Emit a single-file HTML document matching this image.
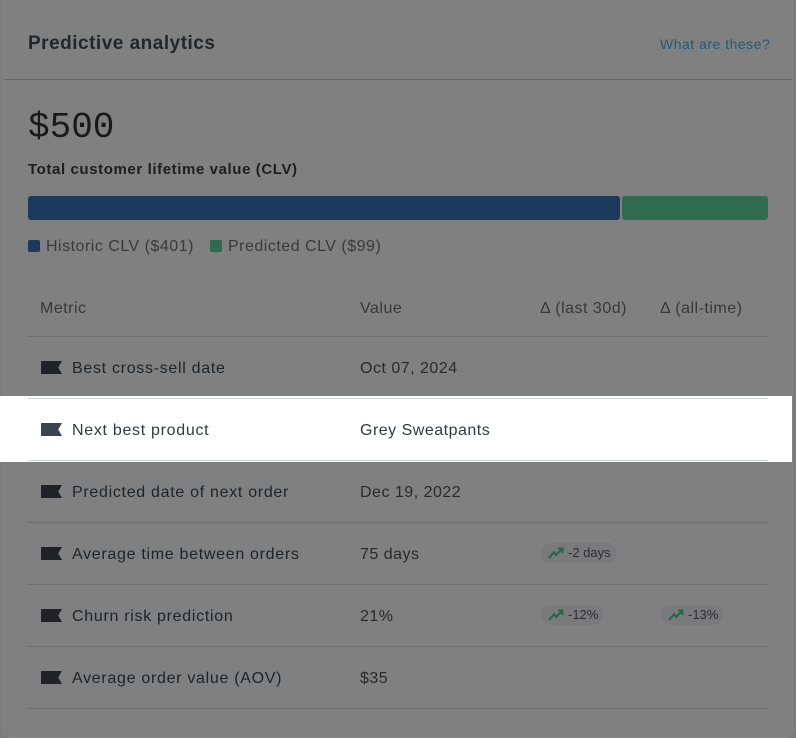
<!DOCTYPE html>
<html><head><meta charset="utf-8"><style>
*{margin:0;padding:0;box-sizing:border-box}
body{width:796px;height:738px;background:#7c7c7c;font-family:"Liberation Sans",sans-serif;position:relative;overflow:hidden}
.card{position:absolute;left:3px;top:0;width:790px;height:738px;background:#808080;border:1px solid #858585;border-top:none;border-radius:0 0 8px 8px}
.a{position:absolute;white-space:nowrap;letter-spacing:0.5px}
.line{position:absolute;left:28px;width:740px;height:1px;background:#6e6e6e}
.ic{position:absolute;left:41px;width:21px;height:13px;background:#1f2328;clip-path:polygon(0 0,100% 0,82% 50%,100% 100%,0 100%)}
.lbl{position:absolute;left:72px;font-size:16px;color:#202428;letter-spacing:0.7px;white-space:nowrap}
.val{position:absolute;left:360px;font-size:16px;color:#2a2a2a;letter-spacing:0.5px;white-space:nowrap}
.pill{position:absolute;height:20px;border-radius:10px;background:#7a7a7c;font-size:13px;color:#2e2e2e;line-height:20px;padding-left:28px}
.pill svg{position:absolute;left:8px;top:4px}
</style></head><body>
<div class="card"></div>
<div class="a" style="left:28px;top:33px;font-size:19px;font-weight:bold;color:#23272b">Predictive analytics</div>
<div class="a" style="left:660px;top:36px;font-size:14px;color:#1e5a7a">What are these?</div>
<div style="position:absolute;left:4px;top:79px;width:788px;height:1px;background:#656565"></div>
<div class="a" style="left:28px;top:107px;font-size:36px;font-family:'Liberation Mono',monospace;color:#1a1a1a;letter-spacing:0">$500</div>
<div class="a" style="left:28px;top:161px;font-size:15px;font-weight:bold;color:#1e1e1e;letter-spacing:0.6px">Total customer lifetime value (CLV)</div>
<div style="position:absolute;left:28px;top:196px;width:592px;height:24px;background:#1c3a5e;border-radius:3px"></div>
<div style="position:absolute;left:622px;top:196px;width:146px;height:24px;background:#2f6b4e;border-radius:3px"></div>
<div style="position:absolute;left:28px;top:240px;width:12px;height:12px;background:#1c3a5e;border-radius:2px"></div>
<div class="a" style="left:46px;top:238px;font-size:16px;color:#3a3a3a">Historic CLV ($401)</div>
<div style="position:absolute;left:210px;top:240px;width:12px;height:12px;background:#2f6b4e;border-radius:2px"></div>
<div class="a" style="left:228px;top:238px;font-size:16px;color:#3a3a3a">Predicted CLV ($99)</div>
<div class="a" style="left:40px;top:300px;font-size:16px;color:#383838">Metric</div>
<div class="a" style="left:360px;top:300px;font-size:16px;color:#383838">Value</div>
<div class="a" style="left:540px;top:300px;font-size:16px;color:#383838">Δ (last 30d)</div>
<div class="a" style="left:660px;top:300px;font-size:16px;color:#383838">Δ (all-time)</div>
<div class="line" style="top:336px"></div>
<div style="position:absolute;left:0;top:396px;width:792px;height:66px;background:#fff"></div>
<div class="line" style="top:398px;background:#c9cfd5"></div>
<div class="line" style="top:460px;background:#c9cfd5"></div>
<div class="line" style="top:522px"></div>
<div class="line" style="top:584px"></div>
<div class="line" style="top:646px"></div>
<div class="line" style="top:708px"></div>

<div class="ic" style="top:361px"></div><div class="lbl" style="top:360px">Best cross-sell date</div><div class="val" style="top:360px">Oct 07, 2024</div>
<div class="ic" style="top:423px;background:#3a4450"></div><div class="lbl" style="top:422px;color:#303a44">Next best product</div><div class="val" style="top:422px;color:#303a44">Grey Sweatpants</div>
<div class="ic" style="top:485px"></div><div class="lbl" style="top:484px">Predicted date of next order</div><div class="val" style="top:484px">Dec 19, 2022</div>
<div class="ic" style="top:547px"></div><div class="lbl" style="top:546px">Average time between orders</div><div class="val" style="top:546px">75 days</div>
<div class="ic" style="top:609px"></div><div class="lbl" style="top:608px">Churn risk prediction</div><div class="val" style="top:608px">21%</div>
<div class="ic" style="top:671px"></div><div class="lbl" style="top:670px">Average order value (AOV)</div><div class="val" style="top:670px">$35</div>

<div class="pill" style="left:540px;top:543px;width:77px"><svg width="16" height="12" viewBox="0 0 16 12"><path d="M1 11 L6 5 L8 8 L14 2 M10 1.5 H14.5 V6" stroke="#1f6a40" stroke-width="2" fill="none"/></svg>-2 days</div>
<div class="pill" style="left:540px;top:605px;width:64px"><svg width="16" height="12" viewBox="0 0 16 12"><path d="M1 11 L6 5 L8 8 L14 2 M10 1.5 H14.5 V6" stroke="#1f6a40" stroke-width="2" fill="none"/></svg>-12%</div>
<div class="pill" style="left:660px;top:605px;width:64px"><svg width="16" height="12" viewBox="0 0 16 12"><path d="M1 11 L6 5 L8 8 L14 2 M10 1.5 H14.5 V6" stroke="#1f6a40" stroke-width="2" fill="none"/></svg>-13%</div>
</body></html>
